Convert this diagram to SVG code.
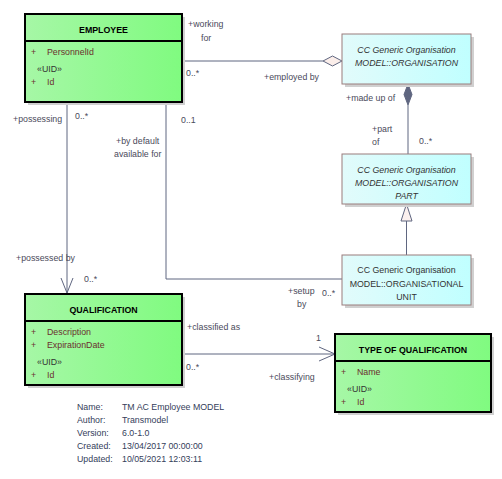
<svg xmlns="http://www.w3.org/2000/svg" width="502" height="479" viewBox="0 0 502 479">
<defs>
<linearGradient id="g" x1="0" y1="0" x2="1" y2="0"><stop offset="0" stop-color="#a6f7a6"/><stop offset="1" stop-color="#80fb80"/></linearGradient>
<linearGradient id="c" x1="0" y1="0" x2="1" y2="0"><stop offset="0" stop-color="#e2fbfb"/><stop offset="1" stop-color="#c0ffff"/></linearGradient>
</defs>
<style>
text{font-family:"Liberation Sans",Arial,sans-serif;font-size:8.8px}
.t{font-weight:bold;fill:#000;text-anchor:middle}
.a{fill:#6b2f2f}
.u{fill:#333}
.l{fill:#4a4a5a}
.it{font-style:italic;fill:#333;text-anchor:middle}
.n{fill:#333;text-anchor:middle}
.f{fill:#34405a}
.sh{fill:#d0d0d0}
.gb{fill:url(#g);stroke:#000;stroke-width:2}
.cb{fill:url(#c);stroke:#9a7c7c;stroke-width:1}
.ln{stroke:#5f6680;stroke-width:1;fill:none}
</style>
<g id="connectors">
<polyline class="ln" points="182,61 323,61"/>
<polygon points="323,61 332.5,56 342,61 332.5,66" fill="#fbeeea" stroke="#5f6680"/>
<line class="ln" x1="408" y1="105" x2="408" y2="154"/>
<polygon points="408,84 412,94.5 408,105 404,94.5" fill="#5f6680" stroke="#5f6680"/>
<line class="ln" x1="406.5" y1="221" x2="406.5" y2="255"/>
<polygon points="406.5,204 412,221 401,221" fill="#fbf0ee" stroke="#5f6680"/>
<polyline class="ln" points="166,102 166,279 342,279"/>
<line class="ln" x1="67" y1="102" x2="67" y2="293"/>
<polyline class="ln" points="61,278 67,293 73,278"/>
<line class="ln" x1="182" y1="354" x2="335" y2="354"/>
<polyline class="ln" points="319,347 335,354 319,361"/>
</g>
<g id="employee">
<rect class="sh" x="28" y="17" width="157" height="88"/>
<rect class="gb" x="25" y="14" width="157" height="88"/>
<line x1="25" y1="41" x2="182" y2="41" stroke="#000" stroke-width="2"/>
<text class="t" x="103.5" y="33">EMPLOYEE</text>
<text class="a" x="31" y="55">+</text><text class="a" x="47" y="55">PersonnelId</text>
<text class="u" x="37" y="72">«UID»</text>
<text class="a" x="31" y="85">+</text><text class="a" x="47" y="85">Id</text>
</g>
<g id="organisation">
<rect class="sh" x="345" y="37" width="129" height="50"/>
<rect class="cb" x="342" y="34" width="129" height="50"/>
<text class="it" x="406.5" y="53">CC Generic Organisation</text>
<text class="it" x="406.5" y="66">MODEL::ORGANISATION</text>
</g>
<g id="organisation-part">
<rect class="sh" x="345" y="157" width="129" height="50"/>
<rect class="cb" x="342" y="154" width="129" height="50"/>
<text class="it" x="406.5" y="173">CC Generic Organisation</text>
<text class="it" x="406.5" y="186">MODEL::ORGANISATION</text>
<text class="it" x="406.5" y="199">PART</text>
</g>
<g id="organisational-unit">
<rect class="sh" x="345" y="258" width="129" height="50"/>
<rect class="cb" x="342" y="255" width="129" height="50"/>
<text class="n" x="406.5" y="273">CC Generic Organisation</text>
<text class="n" x="406.5" y="287">MODEL::ORGANISATIONAL</text>
<text class="n" x="406.5" y="300">UNIT</text>
</g>
<g id="qualification">
<rect class="sh" x="28" y="297" width="157" height="91"/>
<rect class="gb" x="25" y="294" width="157" height="91"/>
<line x1="25" y1="321" x2="182" y2="321" stroke="#000" stroke-width="2"/>
<text class="t" x="103.5" y="313">QUALIFICATION</text>
<text class="a" x="31" y="335">+</text><text class="a" x="47" y="335">Description</text>
<text class="a" x="31" y="348">+</text><text class="a" x="47" y="348">ExpirationDate</text>
<text class="u" x="37" y="365">«UID»</text>
<text class="a" x="31" y="378">+</text><text class="a" x="47" y="378">Id</text>
</g>
<g id="type-of-qualification">
<rect class="sh" x="338" y="337" width="156" height="78"/>
<rect class="gb" x="335" y="334" width="156" height="78"/>
<line x1="335" y1="361" x2="491" y2="361" stroke="#000" stroke-width="2"/>
<text class="t" x="413" y="353">TYPE OF QUALIFICATION</text>
<text class="a" x="341" y="375">+</text><text class="a" x="357" y="375">Name</text>
<text class="u" x="347" y="392">«UID»</text>
<text class="a" x="341" y="405">+</text><text class="a" x="357" y="405">Id</text>
</g>
<g id="labels">
<text class="l" x="188" y="27">+working</text>
<text class="l" x="201" y="41">for</text>
<text class="l" x="186" y="76">0..*</text>
<text class="l" x="264" y="80">+employed by</text>
<text class="l" x="346" y="101">+made up of</text>
<text class="l" x="372" y="132">+part</text>
<text class="l" x="372" y="145">of</text>
<text class="l" x="419" y="144">0..*</text>
<text class="l" x="13" y="122">+possessing</text>
<text class="l" x="75" y="119">0..*</text>
<text class="l" x="181" y="123">0..1</text>
<text class="l" x="116" y="144">+by default</text>
<text class="l" x="114" y="157">available for</text>
<text class="l" x="16" y="261">+possessed by</text>
<text class="l" x="84" y="282">0..*</text>
<text class="l" x="288" y="294">+setup</text>
<text class="l" x="297" y="307">by</text>
<text class="l" x="322" y="296">0..*</text>
<text class="l" x="187" y="330">+classified as</text>
<text class="l" x="316" y="341">1</text>
<text class="l" x="186" y="370">0..*</text>
<text class="l" x="269" y="380">+classifying</text>
</g>
<g id="footer">
<text class="f" x="77" y="410">Name:</text><text class="f" x="122" y="410">TM AC Employee MODEL</text>
<text class="f" x="77" y="423">Author:</text><text class="f" x="122" y="423">Transmodel</text>
<text class="f" x="77" y="436">Version:</text><text class="f" x="122" y="436">6.0-1.0</text>
<text class="f" x="77" y="449">Created:</text><text class="f" x="122" y="449">13/04/2017 00:00:00</text>
<text class="f" x="77" y="462">Updated:</text><text class="f" x="122" y="462">10/05/2021 12:03:11</text>
</g>
</svg>
